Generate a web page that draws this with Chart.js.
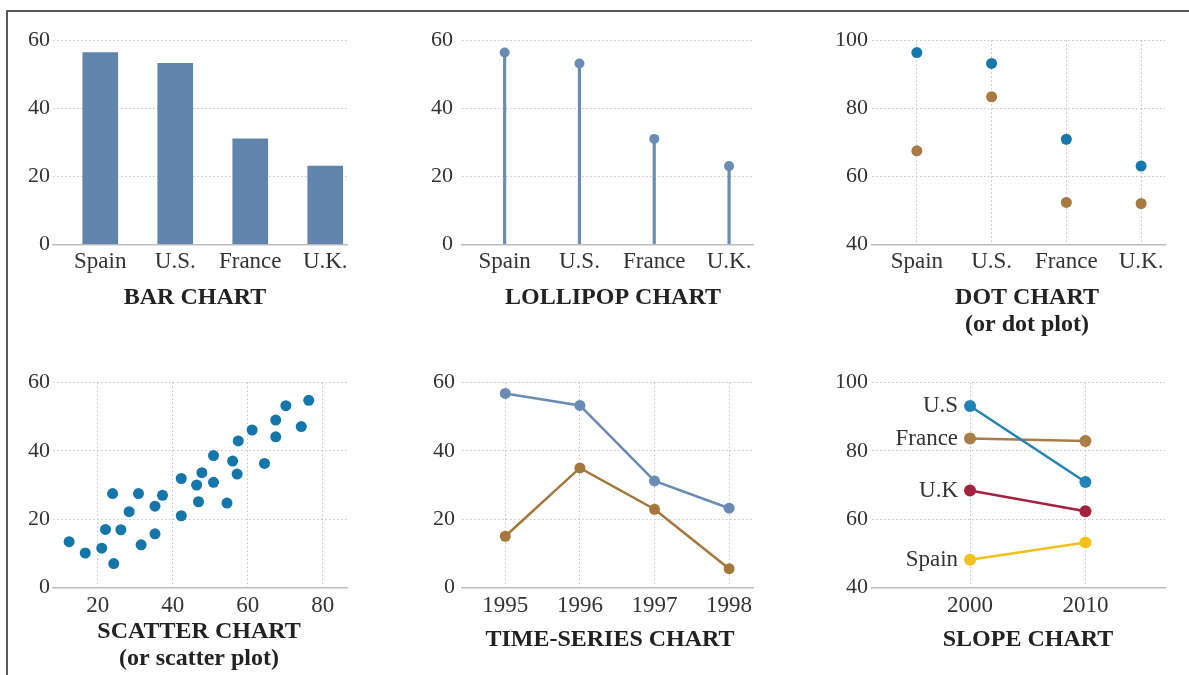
<!DOCTYPE html>
<html lang="en">
<head>
<meta charset="UTF-8">
<title>chart types</title>
<script src="https://cdn.jsdelivr.net/npm/chart.js@4.4.1/dist/chart.umd.min.js"></script>
<style>
    body { margin: 0; background: #fff; }
    #page { position: relative; width: 1189px; height: 675px; overflow: hidden; }
    #frame { position: absolute; left: 6px; top: 10px; right: 0; bottom: 0;
             border-top: 2px solid #5a5a5a; border-left: 2px solid #5a5a5a; }
    canvas { position: absolute; }
</style>
</head>
<body>
<div id="page">
    <div id="frame"></div>
    <canvas id="bar"></canvas>
    <canvas id="lollipop"></canvas>
    <canvas id="dot"></canvas>
    <canvas id="scatter"></canvas>
    <canvas id="series"></canvas>
    <canvas id="slope"></canvas>
</div>

<script>
// donnees
const countries = ['Spain', 'U.S.', 'France', 'U.K.'];
const countryTicks = [0, 1, 2, 3];
const barValues = [56.4, 53.2, 31, 23];

const dotBlue = [96.4, 93.2, 70.9, 63];
const dotBrown = [67.5, 83.4, 52.3, 52];

const scatterX = [12.4, 16.7, 21.1, 24.3, 22.1, 24.0, 26.2, 28.4, 30.9, 31.6, 35.3, 35.3, 37.3, 42.3, 42.3, 46.4,
                  46.9, 47.8, 50.9, 50.9, 54.5, 56.0, 57.2, 57.5, 61.2, 64.5, 67.5, 67.5, 70.2, 74.3, 76.3];
const scatterY = [13.4, 10.1, 11.5, 7.0, 17.0, 27.5, 16.9, 22.2, 27.5, 12.5, 23.8, 15.7, 27.0, 31.9, 21.0, 30.0,
                  25.1, 33.6, 38.6, 30.8, 24.7, 37.0, 33.2, 42.9, 46.1, 36.3, 49.0, 44.1, 53.2, 47.1, 54.8];
const scatterTicks = [20, 40, 60, 80];

const years = [1995, 1996, 1997, 1998];
const seriesBlue = [56.8, 53.3, 31.2, 23.2];
const seriesBrown = [15, 35, 22.9, 5.5];

const slopeYears = [2000, 2010];
const slopeNames = ['U.S', 'France', 'U.K', 'Spain'];
const slopeUS = [93.1, 70.9];
const slopeFrance = [83.6, 82.9];
const slopeUK = [68.4, 62.3];
const slopeSpain = [48.1, 53.2];

const ticks60 = [0, 20, 40, 60];
const ticks100 = [40, 60, 80, 100];

Chart.defaults.font.family = '"Liberation Serif", "DejaVu Serif", serif';
Chart.defaults.font.size = 22;
Chart.defaults.color = '#333';

const GRID = '#c4c4c4';
const TITLE_SIZE = 24;
const TITLE_LH = 27;
const XH = 30;
const YW = 45;

// place le canvas et la zone de tracé (coordonnées de la page)
// un axe vide a droite sert seulement a centrer le titre
function baseOptions(canvas, box, titleText, titleX, titleY, yTickPad, xTickPad) {
    const left = box.left - YW;
    const rightAxis = 2 * (titleX - left) - (box.right - left);
    canvas.width = box.right - left + rightAxis;
    canvas.height = box.height;
    canvas.style.left = left + 'px';
    canvas.style.top = box.canvasTop + 'px';

    const top = box.top - box.canvasTop;
    const bottom = box.bottom - box.canvasTop;
    const lines = Array.isArray(titleText) ? titleText.length : 1;
    const titlePad = (titleY - box.canvasTop) - bottom - XH - TITLE_LH / 2;
    const padBottom = canvas.height - bottom - XH - titlePad - lines * TITLE_LH;
    return {
        responsive: false,
        animation: false,
        layout: {
            padding: { left: 0, top: top, right: 0, bottom: padBottom }
        },
        plugins: {
            legend: { display: false },
            tooltip: { enabled: false },
            title: {
                display: true,
                position: 'bottom',
                text: titleText,
                color: '#222',
                font: { size: TITLE_SIZE, weight: 'bold', lineHeight: TITLE_LH + 'px' },
                padding: { top: titlePad, bottom: 0 }
            }
        },
        scales: {
            x: {
                type: 'linear',
                offset: false,
                afterFit: (s) => { s.height = XH; },
                border: { display: true, color: '#bdbdbd', width: 1.5, dash: [1.5, 2.5] },
                grid: { display: true, color: GRID, lineWidth: 1, drawTicks: false, offset: false },
                ticks: { padding: xTickPad, maxRotation: 0, autoSkip: false, font: { size: 23 } }
            },
            y: {
                afterFit: (s) => { s.width = YW; },
                border: { display: false, dash: [1.5, 2.5] },
                grid: { color: GRID, lineWidth: 1, drawTicks: false },
                ticks: { padding: yTickPad }
            },
            pad: {
                type: 'linear',
                position: 'right',
                afterFit: (s) => { s.width = rightAxis; },
                border: { display: false },
                grid: { display: false },
                ticks: { display: false }
            }
        }
    };
}

function setTicks(values) {
    return (s) => { s.ticks = values.map((v) => ({ value: v })); };
}

const topRow = { canvasTop: 0, height: 345, top: 40.3, bottom: 244.3 };
const bottomRow = { canvasTop: 345, height: 330, top: 382.5, bottom: 587.5 };

// 1. bar chart
const c1 = document.getElementById('bar');
const o1 = baseOptions(c1, { ...topRow, left: 53, right: 347 }, 'BAR CHART', 195, 298, 3, 4);
o1.scales.x.min = -0.63; o1.scales.x.max = 3.29;
o1.scales.x.grid.display = false;
o1.scales.x.afterBuildTicks = setTicks(countryTicks);
o1.scales.x.ticks.callback = (v) => countries[v];
o1.scales.y.min = 0; o1.scales.y.max = 60;
o1.scales.y.afterBuildTicks = setTicks(ticks60);
new Chart(c1, {
    type: 'bar',
    data: {
        datasets: [{
            data: barValues.map((v, i) => ({ x: i, y: v })),
            backgroundColor: '#6184ad',
            barThickness: 35
        }]
    },
    options: o1
});

// 2. lollipop chart
const c2 = document.getElementById('lollipop');
const o2 = baseOptions(c2, { ...topRow, left: 462, right: 753 }, 'LOLLIPOP CHART', 613, 298, 9, 4);
o2.scales.x.min = -0.57; o2.scales.x.max = 3.32;
o2.scales.x.grid.display = false;
o2.scales.x.afterBuildTicks = setTicks(countryTicks);
o2.scales.x.ticks.callback = (v) => countries[v];
o2.scales.y.min = 0; o2.scales.y.max = 60;
o2.scales.y.afterBuildTicks = setTicks(ticks60);
new Chart(c2, {
    type: 'bar',
    data: {
        datasets: [
            {
                type: 'line',
                data: barValues.map((v, i) => ({ x: i, y: v })),
                showLine: false,
                pointRadius: 5,
                pointBackgroundColor: '#6a8cb5',
                pointBorderWidth: 0
            },
            {
                data: barValues.map((v, i) => ({ x: i, y: v })),
                backgroundColor: '#6a8cb5',
                barThickness: 2.5
            }
        ]
    },
    options: o2
});

// 3. dot chart
const c3 = document.getElementById('dot');
const o3 = baseOptions(c3, { ...topRow, left: 872, right: 1165 }, ['DOT CHART', '(or dot plot)'], 1027, 298, 4, 4);
o3.scales.x.min = -0.6; o3.scales.x.max = 3.32;
o3.scales.x.afterBuildTicks = setTicks(countryTicks);
o3.scales.x.ticks.callback = (v) => countries[v];
o3.scales.y.min = 40; o3.scales.y.max = 100;
o3.scales.y.afterBuildTicks = setTicks(ticks100);
new Chart(c3, {
    type: 'scatter',
    data: {
        datasets: [
            { data: dotBlue.map((v, i) => ({ x: i, y: v })), pointRadius: 5.5, pointBackgroundColor: '#1878aa', pointBorderWidth: 0 },
            { data: dotBrown.map((v, i) => ({ x: i, y: v })), pointRadius: 5.5, pointBackgroundColor: '#a67a40', pointBorderWidth: 0 }
        ]
    },
    options: o3
});

// 4. scatter chart
const c4 = document.getElementById('scatter');
const o4 = baseOptions(c4, { ...bottomRow, left: 53, right: 347 }, ['SCATTER CHART', '(or scatter plot)'], 199, 632, 3, 4.5);
o4.scales.x.min = 8.1; o4.scales.x.max = 86.5;
o4.scales.x.afterBuildTicks = setTicks(scatterTicks);
o4.scales.y.min = 0; o4.scales.y.max = 60;
o4.scales.y.afterBuildTicks = setTicks(ticks60);
new Chart(c4, {
    type: 'scatter',
    data: {
        datasets: [{
            data: scatterX.map((x, i) => ({ x: x, y: scatterY[i] })),
            pointRadius: 5.5,
            pointBackgroundColor: '#1577a9',
            pointBorderWidth: 0
        }]
    },
    options: o4
});

// 5. time-series chart
const c5 = document.getElementById('series');
const o5 = baseOptions(c5, { ...bottomRow, left: 462, right: 753 }, 'TIME-SERIES CHART', 610, 640, 7, 4.5);
o5.scales.x.min = 1994.42; o5.scales.x.max = 1998.32;
o5.scales.x.afterBuildTicks = setTicks(years);
o5.scales.x.ticks.callback = (v) => String(v);
o5.scales.y.min = 0; o5.scales.y.max = 60;
o5.scales.y.afterBuildTicks = setTicks(ticks60);
new Chart(c5, {
    type: 'line',
    data: {
        datasets: [
            {
                data: years.map((yr, i) => ({ x: yr, y: seriesBlue[i] })),
                borderColor: '#6a8bb4', borderWidth: 2.5, tension: 0,
                pointRadius: 5.5, pointBackgroundColor: '#6a8bb4', pointBorderWidth: 0
            },
            {
                data: years.map((yr, i) => ({ x: yr, y: seriesBrown[i] })),
                borderColor: '#a5773b', borderWidth: 2.5, tension: 0,
                pointRadius: 5.5, pointBackgroundColor: '#a5773b', pointBorderWidth: 0
            }
        ]
    },
    options: o5
});

// 6. slope chart
const slopeLabels = {
    id: 'slopeLabels',
    afterDatasetsDraw(chart) {
        const ctx = chart.ctx;
        ctx.save();
        ctx.font = '23px "Liberation Serif", serif';
        ctx.fillStyle = '#333';
        ctx.textAlign = 'right';
        ctx.textBaseline = 'middle';
        chart.data.datasets.forEach((ds, i) => {
            const pt = chart.getDatasetMeta(i).data[0];
            ctx.fillText(ds.label, pt.x - 12, pt.y);
        });
        ctx.restore();
    }
};

const slopeSeries = [slopeUS, slopeFrance, slopeUK, slopeSpain];
const slopeColors = ['#2283b8', '#a87d48', '#a3223d', '#f2c11e'];

const c6 = document.getElementById('slope');
const o6 = baseOptions(c6, { ...bottomRow, left: 872, right: 1165 }, 'SLOPE CHART', 1028, 640, 4, 4.5);
o6.scales.x.min = 1991.5; o6.scales.x.max = 2016.9;
o6.scales.x.afterBuildTicks = setTicks(slopeYears);
o6.scales.x.ticks.callback = (v) => String(v);
o6.scales.y.min = 40; o6.scales.y.max = 100;
o6.scales.y.afterBuildTicks = setTicks(ticks100);
new Chart(c6, {
    type: 'line',
    data: {
        datasets: slopeSeries.map((vals, k) => ({
            label: slopeNames[k],
            data: slopeYears.map((yr, i) => ({ x: yr, y: vals[i] })),
            borderColor: slopeColors[k], borderWidth: 2.5, tension: 0,
            pointRadius: 6, pointBackgroundColor: slopeColors[k], pointBorderWidth: 0
        }))
    },
    options: o6,
    plugins: [slopeLabels]
});
</script>
</body>
</html>
